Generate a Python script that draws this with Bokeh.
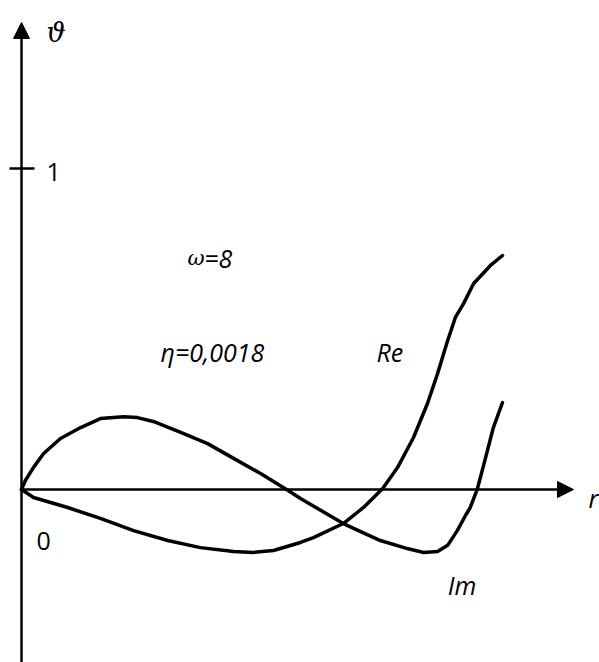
from bokeh.plotting import figure
from bokeh.models import Range1d, Arrow, NormalHead
from bokeh.core.properties import value
from bokeh.embed import file_html
from bokeh.resources import INLINE

# Im(theta) along r
r_im = [0.0, 0.008, 0.025, 0.046, 0.081, 0.123, 0.164, 0.212, 0.241, 0.274, 0.331,
        0.387, 0.441, 0.497, 0.551, 0.580, 0.669, 0.746, 0.802, 0.836, 0.865,
        0.886, 0.906, 0.923, 0.933, 0.948, 0.965, 0.981, 1.0]
im_vals = [0.0, 0.028, 0.069, 0.112, 0.159, 0.193, 0.221, 0.227, 0.224, 0.212, 0.178,
           0.143, 0.097, 0.050, 0.0, -0.028, -0.106, -0.159, -0.184, -0.196, -0.193,
           -0.174, -0.128, -0.081, -0.056, 0.003, 0.100, 0.193, 0.271]

# Re(theta) along r
r_re = [0.0, 0.025, 0.096, 0.164, 0.233, 0.304, 0.372, 0.441, 0.482, 0.524, 0.580,
        0.607, 0.669, 0.711, 0.751, 0.782, 0.815, 0.844, 0.865, 0.886, 0.902,
        0.919, 0.940, 0.975, 1.0]
re_vals = [0.0, -0.025, -0.056, -0.090, -0.128, -0.159, -0.181, -0.193, -0.196, -0.190, -0.165,
           -0.150, -0.106, -0.056, 0.003, 0.069, 0.162, 0.268, 0.361, 0.464, 0.536,
           0.579, 0.642, 0.698, 0.729]

y_ticks = [1]
y_tick_labels = ["1"]

p = figure(width=599, height=662, output_backend="svg", toolbar_location=None,
           x_range=Range1d(-0.04366, 1.20166), y_range=Range1d(-0.5389, 1.5234),
           min_border=0)
p.axis.visible = False
p.grid.visible = False
p.outline_line_color = None
p.background_fill_color = "white"
p.border_fill_color = "white"

# hand-drawn style axes with arrow heads
p.add_layout(Arrow(x_start=0, y_start=-0.6, x_end=0, y_end=1.455,
                   line_width=2.5, line_color="black",
                   end=NormalHead(size=16, fill_color="black", line_color="black")))
p.add_layout(Arrow(x_start=0, y_start=0, x_end=1.1476, y_end=0,
                   line_width=2.5, line_color="black",
                   end=NormalHead(size=16, fill_color="black", line_color="black")))

# tick on the theta axis
p.segment(x0=[-0.025] * len(y_ticks), y0=y_ticks, x1=[0.027] * len(y_ticks), y1=y_ticks,
          line_width=2.5, line_color="black")
p.text(x=[0.052] * len(y_ticks), y=[t - 0.012 for t in y_ticks], text=y_tick_labels,
       text_font=value("Open Sans"), text_font_size="25px", text_color="black",
       text_baseline="alphabetic", text_align="left")

# curves
p.line(r_im, im_vals, line_width=3.5, line_color="black", line_join="round", line_cap="round")
p.line(r_re, re_vals, line_width=3.5, line_color="black", line_join="round", line_cap="round")

# origin label
p.text(x=[0.031], y=[-0.159], text=["0"], text_font=value("Open Sans"),
       text_font_size="25px", text_color="black", text_baseline="alphabetic")

# axis names
p.text(x=[0.052], y=[1.424], text=["ϑ"], text_font=value("DejaVu Serif"),
       text_font_style="italic", text_font_size="27px", text_color="black",
       text_baseline="alphabetic")
p.text(x=[1.179], y=[-0.025], text=["r"], text_font=value("Open Sans"),
       text_font_style="italic", text_font_size="25px", text_color="black",
       text_baseline="alphabetic")

# parameters
p.text(x=[0.345], y=[0.720], text=["ω"], text_font=value("DejaVu Serif"),
       text_font_style="italic", text_font_size="21px", text_color="black",
       text_baseline="alphabetic")
p.text(x=[0.380], y=[0.720], text=["=8"], text_font=value("Open Sans"),
       text_font_style="italic", text_font_size="25px", text_color="black",
       text_baseline="alphabetic")
p.text(x=[0.289], y=[0.427], text=["η=0,0018"], text_font=value("Open Sans"),
       text_font_style="italic", text_font_size="25px", text_color="black",
       text_baseline="alphabetic")

# curve names
p.text(x=[0.738], y=[0.427], text=["Re"], text_font=value("Open Sans"),
       text_font_style="italic", text_font_size="25px", text_color="black",
       text_baseline="alphabetic")
p.text(x=[0.886], y=[-0.299], text=["Im"], text_font=value("Open Sans"),
       text_font_style="italic", text_font_size="25px", text_color="black",
       text_baseline="alphabetic")

open("out.html", "w").write(file_html(p, INLINE))
